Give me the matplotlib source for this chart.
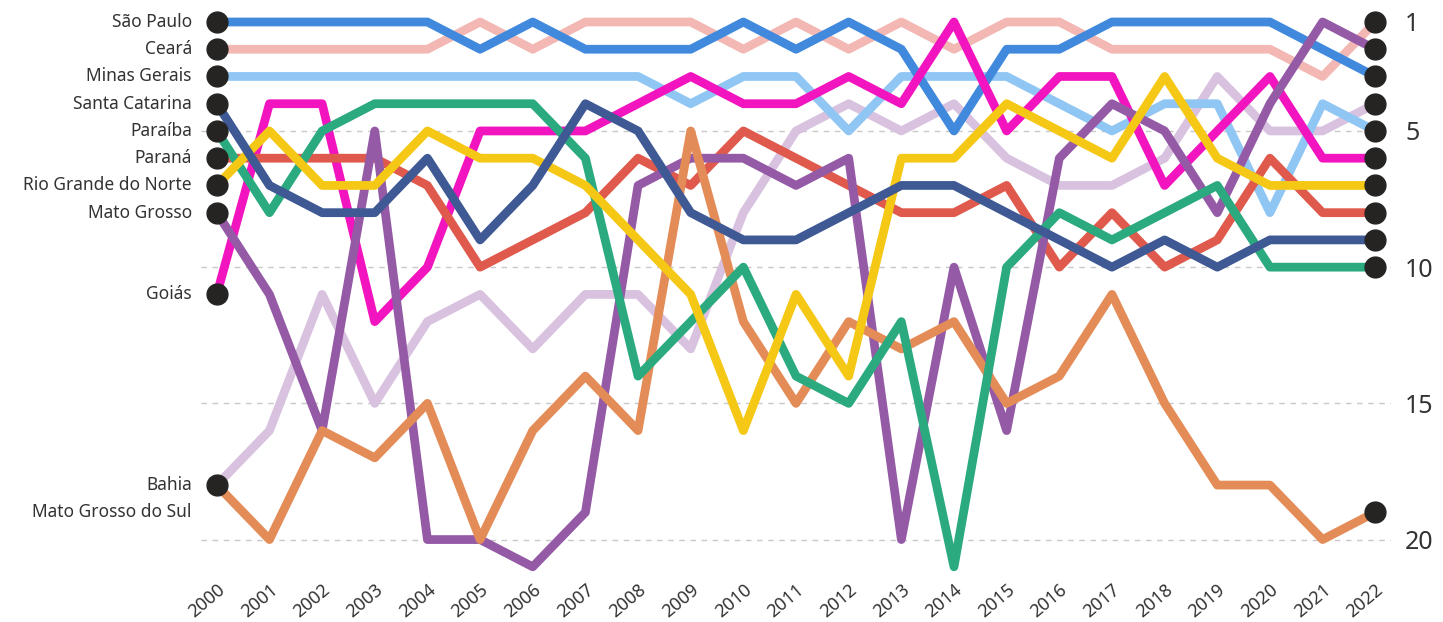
import matplotlib
matplotlib.use("Agg")
import matplotlib.pyplot as plt

plt.rcParams['font.family'] = ['Noto Sans', 'DejaVu Sans']

years = list(range(2000, 2023))

# ranking per state, 2000..2022
sao_paulo = [1, 1, 1, 1, 1, 2, 1, 2, 2, 2, 1, 2, 1, 2, 5, 2, 2, 1, 1, 1, 1, 2, 3]
ceara = [2, 2, 2, 2, 2, 1, 2, 1, 1, 1, 2, 1, 2, 1, 2, 1, 1, 2, 2, 2, 2, 3, 1]
minas_gerais = [3, 3, 3, 3, 3, 3, 3, 3, 3, 4, 3, 3, 5, 3, 3, 3, 4, 5, 4, 4, 8, 4, 5]
santa_catarina = [4, 7, 8, 8, 6, 9, 7, 4, 5, 8, 9, 9, 8, 7, 7, 8, 9, 10, 9, 10, 9, 9, 9]
paraiba = [5, 8, 5, 4, 4, 4, 4, 6, 14, 12, 10, 14, 15, 12, 21, 10, 8, 9, 8, 7, 10, 10, 10]
parana = [6, 6, 6, 6, 7, 10, 9, 8, 6, 7, 5, 6, 7, 8, 8, 7, 10, 8, 10, 9, 6, 8, 8]
rio_grande_norte = [7, 5, 7, 7, 5, 6, 6, 7, 9, 11, 16, 11, 14, 6, 6, 4, 5, 6, 3, 6, 7, 7, 7]
mato_grosso = [8, 11, 16, 5, 20, 20, 21, 19, 7, 6, 6, 7, 6, 20, 10, 16, 6, 4, 5, 8, 4, 1, 2]
goias = [11, 4, 4, 12, 10, 5, 5, 5, 4, 3, 4, 4, 3, 4, 1, 5, 3, 3, 7, 5, 3, 6, 6]
bahia = [18, 16, 11, 15, 12, 11, 13, 11, 11, 13, 8, 5, 4, 5, 4, 6, 7, 7, 6, 3, 5, 5, 4]
mato_grosso_sul = [18, 20, 16, 17, 15, 20, 16, 14, 16, 5, 12, 15, 12, 13, 12, 15, 14, 11, 15, 18, 18, 20, 19]

states = ['São Paulo', 'Ceará', 'Minas Gerais', 'Santa Catarina', 'Paraíba', 'Paraná',
          'Rio Grande do Norte', 'Mato Grosso', 'Goiás', 'Bahia', 'Mato Grosso do Sul']
ranks = [sao_paulo, ceara, minas_gerais, santa_catarina, paraiba, parana,
         rio_grande_norte, mato_grosso, goias, bahia, mato_grosso_sul]
colors = ['#4189DD', '#F3B8B3', '#90C6F3', '#3E5993', '#2BAA7F', '#DF5A4C',
          '#F5C816', '#955AA6', '#F214BE', '#D8C2DF', '#E48C57']
# left label rows (Mato Grosso do Sul is listed one row below Bahia)
label_rows = [1, 2, 3, 4, 5, 6, 7, 8, 11, 18, 19]

draw_order = [9, 1, 2, 0, 8, 5, 7, 10, 4, 6, 3]

fig = plt.figure(figsize=(14.43, 6.22), dpi=100)
ax = fig.add_axes([0.1393, 0.0756, 0.8247, 0.9197])

for gy in [5, 10, 15, 20]:
    ax.axhline(gy, color='#C8C8C8', lw=1, ls=(0, (4, 4)), zorder=0)

for k, i in enumerate(draw_order):
    ax.plot(years, ranks[i], color=colors[i], lw=6.3, solid_joinstyle='round',
            solid_capstyle='butt', zorder=2 + k)

for i in range(len(states)):
    if states[i] != 'Mato Grosso do Sul':
        ax.plot(years[0], ranks[i][0], 'o', color='#252423', ms=15, zorder=30)
    ax.plot(years[-1], ranks[i][-1], 'o', color='#252423', ms=15, zorder=30)
    ax.annotate(states[i], (years[0], label_rows[i]), xytext=(-25, 0),
                textcoords='offset pixels', ha='right', va='center',
                fontsize=12.5, color='#333333')

ax.set_xlim(1999.7, 2022.3)
ax.set_ylim(21.3, 0.3)
ax.set_xticks(years)
ax.set_xticklabels([str(y) for y in years], rotation=40, ha='right',
                   rotation_mode='anchor', fontsize=13, color='#333333')
ax.yaxis.tick_right()
ax.set_yticks([1, 5, 10, 15, 20])
ax.set_yticklabels(['1', '5', '10', '15', '20'], fontsize=18, color='#333333')
ax.tick_params(length=0)
ax.tick_params(axis='x', pad=4)
ax.tick_params(axis='y', pad=10)
for s in ax.spines.values():
    s.set_visible(False)

fig.savefig('out.png', dpi=100)
